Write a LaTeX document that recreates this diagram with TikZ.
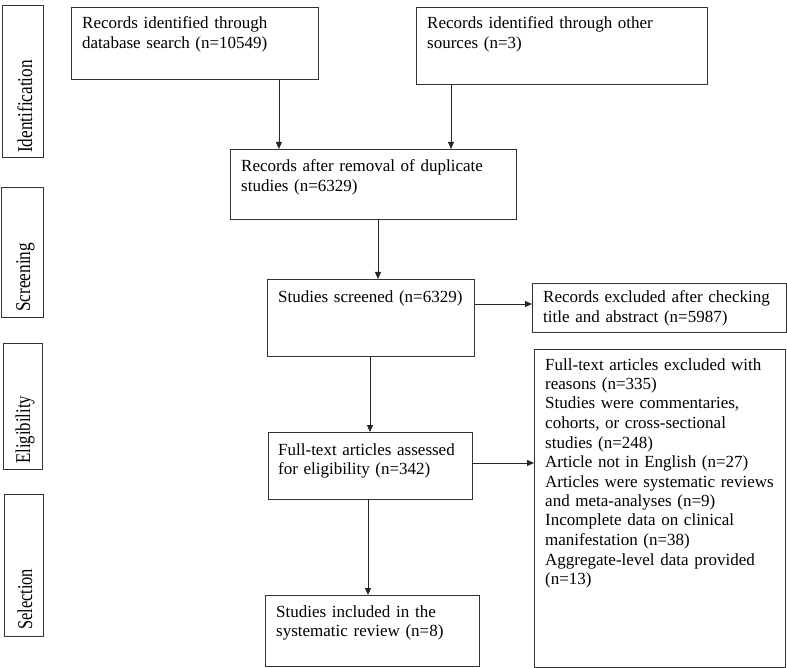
\documentclass[tikz,border=0pt]{standalone}
\usepackage{fontspec}
\setmainfont{Liberation Serif}
\usetikzlibrary{arrows.meta}
\begin{document}
\begin{tikzpicture}[x=1pt,y=-1pt,
  box/.style={draw=black!80, line width=0.9pt, inner sep=0pt, anchor=north west},
  txt/.style={anchor=base west, inner sep=0pt, text width=260pt, align=left, font=\fontsize{17}{19.5}\selectfont},
  phase/.style={anchor=base west, inner sep=0pt, rotate=90, font=\fontsize{21}{24}\selectfont},
  arr/.style={draw=black!85, line width=0.8pt, -{Triangle[length=7pt,width=6pt]}}]
\useasboundingbox (0,0) rectangle (787,668);

% phase boxes
\node[box, minimum width=41pt, minimum height=152pt] (idb) at (2,5) {};
\node[box, minimum width=42pt, minimum height=130pt] (scb) at (1,187) {};
\node[box, minimum width=39pt, minimum height=126pt] (elb) at (3,343) {};
\node[box, minimum width=39pt, minimum height=142pt] (seb) at (4,494) {};
\node[phase] (idt) at (32,153) {\scalebox{0.82}[1]{Identification}};
\node[phase] (sct) at (30,312) {\scalebox{0.82}[1]{Screening}};
\node[phase] (elt) at (30,464) {\scalebox{0.8}[1]{Eligibility}};
\node[phase] (set) at (32,630) {\scalebox{0.78}[1]{Selection}};

% flow boxes
\node[box, minimum width=247pt, minimum height=72pt] (db) at (71,7) {};
\node[box, minimum width=291pt, minimum height=77pt] (oth) at (416,7) {};
\node[box, minimum width=286pt, minimum height=70pt] (dup) at (230,149) {};
\node[box, minimum width=207pt, minimum height=77pt] (scr) at (267,279) {};
\node[box, minimum width=254pt, minimum height=49pt] (exa) at (532,283) {};
\node[box, minimum width=204pt, minimum height=67pt] (ass) at (268,432) {};
\node[box, minimum width=251pt, minimum height=318pt] (exb) at (534,349) {};
\node[box, minimum width=214pt, minimum height=71pt] (inc) at (265,595) {};

% texts
\node[txt] (dbt) at (82,29) {Records identified through\\database search (n=10549)};
\node[txt] (otht) at (427,29) {Records identified through other\\sources (n=3)};
\node[txt] (dupt) at (241,172) {Records after removal of duplicate\\studies (n=6329)};
\node[txt] (scrt) at (278,302) {Studies screened (n=6329)};
\node[txt] (exat) at (543,303) {Records excluded after checking\\title and abstract (n=5987)};
\node[txt] (asst) at (278,455) {Full-text articles assessed\\for eligibility (n=342)};
\node[txt] (exbt) at (545,370) {Full-text articles excluded with\\reasons (n=335)\\Studies were commentaries,\\cohorts, or cross-sectional\\studies (n=248)\\Article not in English (n=27)\\Articles were systematic reviews\\and meta-analyses (n=9)\\Incomplete data on clinical\\manifestation (n=38)\\Aggregate-level data provided\\(n=13)};
\node[txt] (inct) at (276,617) {Studies included in the\\systematic review (n=8)};

% arrows
\draw[arr] ([xshift=-40pt]db.south east) -- ([xshift=-40pt]db.south east |- dup.north);
\draw[arr] ([xshift=35pt]oth.south west) -- ([xshift=35pt]oth.south west |- dup.north);
\draw[arr] ([xshift=148pt]dup.south west) -- ([xshift=148pt]dup.south west |- scr.north);
\draw[arr] ([yshift=-25pt]scr.north east) -- ([yshift=-25pt]scr.north east -| exa.west);
\draw[arr] ([xshift=103pt]scr.south west) -- ([xshift=103pt]scr.south west |- ass.north);
\draw[arr] ([yshift=-31pt]ass.north east) -- ([yshift=-31pt]ass.north east -| exb.west);
\draw[arr] ([xshift=100pt]ass.south west) -- ([xshift=100pt]ass.south west |- inc.north);
\end{tikzpicture}
\end{document}
